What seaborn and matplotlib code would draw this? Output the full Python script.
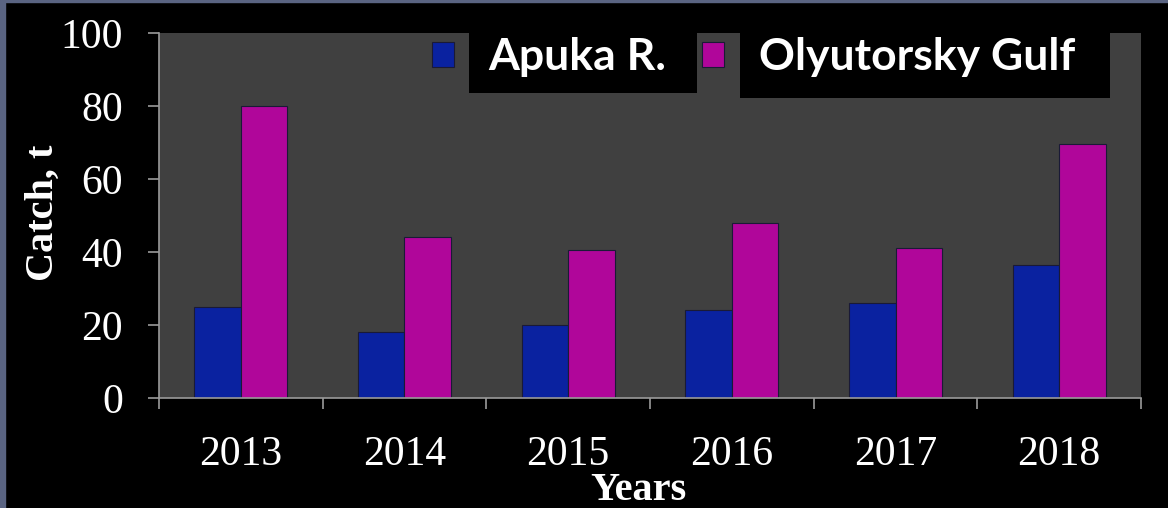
import pandas as pd
import matplotlib.pyplot as plt
import seaborn as sns
from matplotlib.patches import Rectangle
from matplotlib.ticker import FixedLocator

years = ['2013', '2014', '2015', '2016', '2017', '2018']
apuka = [25, 18, 20, 24, 26, 36.5]
olyutorsky = [80, 44, 40.5, 48, 41, 69.5]
series = ['Apuka R.', 'Olyutorsky Gulf']
colors = ['#0a22a0', '#b0069a']

df = pd.DataFrame({
    'year': years * 2,
    'catch': apuka + olyutorsky,
    'area': [series[0]] * len(years) + [series[1]] * len(years),
})

serif = ['Liberation Serif', 'DejaVu Serif']

fig = plt.figure(figsize=(11.68, 5.08), dpi=100, facecolor='black')
ax = fig.add_axes([0.1361, 0.2165, 0.8408, 0.7185])
ax.set_facecolor('#404040')

sns.barplot(data=df, x='year', y='catch', hue='area', palette=colors, saturation=1,
            width=0.57, edgecolor='#1a1a36', linewidth=0.8, ax=ax)

ax.set_xlim(-0.5, len(years) - 0.5)
ax.set_ylim(0, 100)
ax.set_yticks([0, 20, 40, 60, 80, 100])

for s in ['top', 'right']:
    ax.spines[s].set_visible(False)
for s in ['left', 'bottom']:
    ax.spines[s].set_color('#9a9a9a')
    ax.spines[s].set_linewidth(1.2)

ax.tick_params(axis='y', colors='#9a9a9a', labelcolor='white', length=8,
               width=1.2, pad=18, labelsize=30)
ax.tick_params(axis='x', which='major', length=0, labelcolor='white',
               pad=27, labelsize=30)
ax.xaxis.set_minor_locator(FixedLocator([i - 0.5 for i in range(len(years) + 1)]))
ax.tick_params(axis='x', which='minor', length=8, width=1.2, color='#9a9a9a')
for lab in ax.get_xticklabels() + ax.get_yticklabels():
    lab.set_family(serif)

ax.set_xlabel('Years', family=serif, fontweight='bold', fontsize=29, color='white')
ax.set_ylabel('Catch, t', family=serif, fontweight='bold', fontsize=29, color='white')
ax.xaxis.set_label_coords(0.488, -0.203)
ax.yaxis.set_label_coords(-0.099, 0.507)

handles, labels = ax.get_legend_handles_labels()
leg = ax.legend(handles, labels, loc='upper left', bbox_to_anchor=(0.273, 1.0),
                ncol=2, frameon=False, borderaxespad=0, borderpad=0.1,
                handlelength=0.5, handleheight=0.5, handletextpad=0.78,
                columnspacing=0.8,
                prop={'family': ['Lato', 'DejaVu Sans'], 'weight': 'bold', 'size': 32})
for t in leg.get_texts():
    t.set_color('white')

# black boxes behind the legend labels
fig.canvas.draw()
renderer = fig.canvas.get_renderer()
top = ax.get_window_extent(renderer).y1
for t, h, rpad in zip(leg.get_texts(), [60, 65], [31, 35]):
    bb = t.get_window_extent(renderer)
    ax.add_patch(Rectangle((bb.x0 - 19, top - h), bb.width + 19 + rpad, h,
                           transform=None, facecolor='black', edgecolor='none',
                           zorder=4.5, clip_on=False))

fig.patches.append(Rectangle((0, 0), 5 / 1168, 1, transform=fig.transFigure,
                             color='#5a6482', zorder=0))
fig.patches.append(Rectangle((0, 1 - 2 / 508), 1, 2 / 508, transform=fig.transFigure,
                             color='#5a6482', zorder=0))

fig.savefig('out.png', dpi=100, facecolor='black')
